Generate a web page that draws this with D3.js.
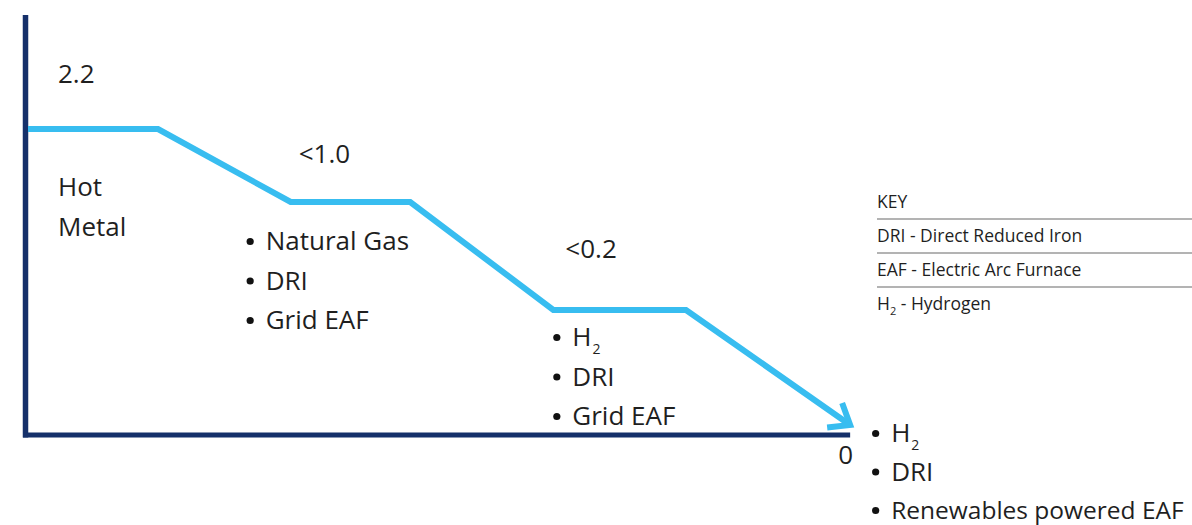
<!DOCTYPE html>
<html>
<head>
<meta charset="utf-8">
<script src="https://cdn.jsdelivr.net/npm/d3@7/dist/d3.min.js"></script>
<style>
  html, body { margin: 0; padding: 0; background: #fff; }
  svg { display: block; }
  text { font-family: "Open Sans", sans-serif; fill: #1f1f1f; }
</style>
</head>
<body>
<svg id="chart" width="1192" height="525"></svg>
<script>
// Steelmaking routes and their CO2 intensity (t CO2 per t steel)
const stages = [0, 1, 2, 3];
const intensity = [2.2, 1.0, 0.2, 0];
const intensityLabels = ["2.2", "<1.0", "<0.2", "0"];
const routes = [
  [{ t: "Hot", bullet: false }, { t: "Metal", bullet: false }],
  [{ t: "Natural Gas" }, { t: "DRI" }, { t: "Grid EAF" }],
  [{ t: "H", sub: "2" }, { t: "DRI" }, { t: "Grid EAF" }],
  [{ t: "H", sub: "2" }, { t: "DRI" }, { t: "Renewables powered EAF" }]
];
const keyTitle = "KEY";
const keyRows = [
  { t: "DRI - Direct Reduced Iron" },
  { t: "EAF - Electric Arc Furnace" },
  { t: "H", sub: "2", rest: " - Hydrogen" }
];

const svg = d3.select("#chart");

// Horizontal position of each stage; plateau lengths and the arrow's reach in stage units
const x = d3.scaleLinear().domain([0, 3]).range([28, 816]);
const plateau = [0.495, 0.455, 0.505];
const arrowReach = 0.13;

// The vertical axis is schematic: piecewise linear through the labelled levels
const y = d3.scaleLinear()
  .domain([0, 0.2, 1.0, 2.2])
  .range([425, 310, 202, 129]);

const navy = "#15306a";
const blue = "#38bdf0";

// Axes
const axisBaseY = 435;
svg.append("line")
  .attr("x1", 25.5).attr("x2", 25.5)
  .attr("y1", 15).attr("y2", axisBaseY + 2.5)
  .attr("stroke", navy).attr("stroke-width", 5.5);
svg.append("line")
  .attr("x1", 23).attr("x2", x(3 + arrowReach))
  .attr("y1", axisBaseY).attr("y2", axisBaseY)
  .attr("stroke", navy).attr("stroke-width", 5);

// Step-down path built from the intensity levels
const pts = [];
stages.forEach((s, i) => {
  if (i < stages.length - 1) {
    pts.push([s, intensity[i]]);
    pts.push([s + plateau[i], intensity[i]]);
  } else {
    pts.push([s + arrowReach, intensity[i]]);
  }
});
const line = d3.line().x(d => x(d[0])).y(d => y(d[1]));
svg.append("path")
  .attr("d", line(pts))
  .attr("fill", "none")
  .attr("stroke", blue)
  .attr("stroke-width", 6)
  .attr("stroke-linejoin", "miter");

// Open arrowhead at the end of the path
const tip = pts[pts.length - 1];
const tx = x(tip[0]), ty = y(tip[1]);
svg.append("path")
  .attr("d", `M${tx - 23},${ty + 2.5}L${tx},${ty}L${tx - 8},${ty - 22}`)
  .attr("fill", "none")
  .attr("stroke", blue)
  .attr("stroke-width", 6)
  .attr("stroke-linejoin", "miter")
  .attr("stroke-linecap", "butt");

// Value labels above each plateau
const valueOffsets = [[30, -46], [8, -39], [12, -52], [24, 29]];
svg.selectAll("text.value")
  .data(intensityLabels)
  .join("text")
  .attr("class", "value")
  .attr("x", (d, i) => i < 3 ? x(stages[i]) + valueOffsets[i][0] : x(3 + arrowReach) - 12)
  .attr("y", (d, i) => i < 3 ? y(intensity[i]) + valueOffsets[i][1] : axisBaseY + valueOffsets[i][1])
  .attr("font-size", 26)
  .text(d => d);

// Route descriptions below each plateau
const routeAnchors = [
  { x: x(0) + 30, y: y(intensity[0]) + 67, gap: 39.5 },
  { x: x(1) - 25, y: y(intensity[1]) + 48, gap: 39.5 },
  { x: x(2) + 19, y: y(intensity[2]) + 36, gap: 39.5 },
  { x: x(3 + arrowReach) + 41, y: axisBaseY + 7, gap: 38.5 }
];
routes.forEach((items, i) => {
  const a = routeAnchors[i];
  items.forEach((it, j) => {
    const by = a.y + j * a.gap;
    if (it.bullet !== false) {
      svg.append("circle")
        .attr("cx", a.x - 15.5)
        .attr("cy", by - 8.5)
        .attr("r", 3.6)
        .attr("fill", "#111");
    }
    const t = svg.append("text")
      .attr("x", a.x)
      .attr("y", by)
      .attr("font-size", it.t.length > 16 ? 24.5 : 26);
    t.append("tspan").text(it.t);
    if (it.sub) {
      t.append("tspan").attr("font-size", 14).attr("dy", 8).attr("dx", 1).text(it.sub);
    }
  });
});

// Key
const keyX = 877, keyY = 208, keyRow = 34;
svg.append("text")
  .attr("x", keyX).attr("y", keyY)
  .attr("font-size", 17.5)
  .text(keyTitle);
keyRows.forEach((r, i) => {
  svg.append("line")
    .attr("x1", keyX).attr("x2", 1192)
    .attr("y1", keyY + 11 + i * keyRow).attr("y2", keyY + 11 + i * keyRow)
    .attr("stroke", "#9a9a9a").attr("stroke-width", 1.3);
  const t = svg.append("text")
    .attr("x", keyX).attr("y", keyY + 34 + i * keyRow)
    .attr("font-size", 17.5);
  t.append("tspan").text(r.t);
  if (r.sub) {
    t.append("tspan").attr("font-size", 11).attr("dy", 5).text(r.sub);
    t.append("tspan").attr("dy", -5).text(r.rest);
  }
});
</script>
</body>
</html>
